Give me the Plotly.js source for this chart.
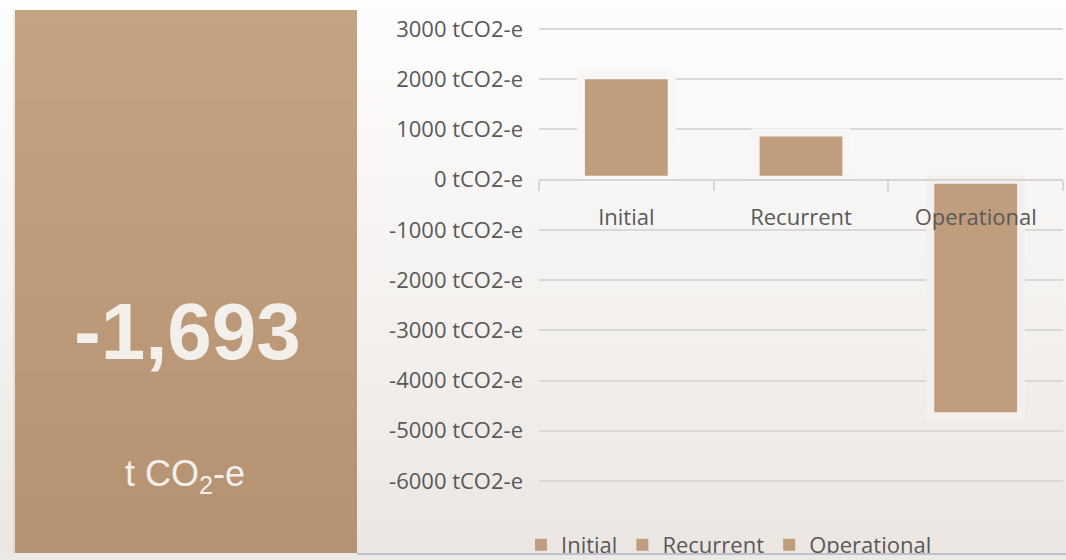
<!DOCTYPE html>
<html>
<head>
<meta charset="utf-8">
<script src="https://cdn.plot.ly/plotly-3.0.1.min.js"></script>
<style>
  html, body { margin: 0; padding: 0; background: #ede9e6; }
  #wrap { position: relative; width: 1066px; height: 553px; overflow: hidden;
          background: linear-gradient(#fdfdfd 0%, #f6f4f2 45%, #ebe6e2 100%); }
  #line { width: 1066px; height: 2px; background: linear-gradient(to right, #ede9e6 0, #ede9e6 357px, #bfc0cd 357px); }
  #chart { width: 1066px; height: 560px; }
</style>
</head>
<body>
<div id="wrap"><div id="chart"></div></div>
<div id="line"></div>
<script>
// ---- data ----
const categories = ['Initial', 'Recurrent', 'Operational'];
const values = [2080, 940, -4713];          // tCO2-e
const totalLabel = '-1,693';
const unitLabel = 't CO<sub>2</sub>-e';
const yTickVals = [3000, 2000, 1000, 0, -1000, -2000, -3000, -4000, -5000, -6000];
const tickSuffix = ' tCO2-e';

// ---- styling ----
const barColor = '#c09e7d';
const borderColors = ['#f8f7f5', '#f8f6f4', '#f3f0ed'];
const labelColor = '#595959';
const W = 1066, H = 560;
const M = { l: 539, r: 3, t: 24, b: 74, autoexpand: false };
const yRange = [-6100, 3100];
const plotW = W - M.l - M.r, plotH = H - M.t - M.b;
const px2x = p => (p - M.l) / plotW;
const px2y = p => (H - M.b - p) / plotH;

// bars (with a background-coloured border that breaks the gridlines)
const traces = categories.map((c, i) => ({
  type: 'bar',
  x: [c],
  y: [values[i]],
  name: c,
  width: 0.52,
  showlegend: false,
  marker: { color: barColor, line: { color: borderColors[i], width: 8 } },
  hoverinfo: 'x+y'
}));
// legend entries (plain squares)
categories.forEach((c, i) => traces.push({
  type: 'bar', x: [c], y: [null], name: c, showlegend: true,
  marker: { color: barColor, line: { width: 0 } }, hoverinfo: 'skip'
}));

// left panel with vertical gradient (stacked bands, no seams)
const shapes = [];
const panelTop = 10, panelBottom = 553, nb = 30;
const c0 = [196, 163, 130], c1 = [181, 146, 114];
for (let k = 0; k < nb; k++) {
  const t = (k + 0.5) / nb;
  const col = c0.map((v, j) => Math.round(v + (c1[j] - v) * t));
  shapes.push({
    type: 'rect', xref: 'paper', yref: 'paper', layer: 'below',
    x0: px2x(15), x1: px2x(357),
    y0: px2y(panelBottom),
    y1: px2y(panelTop + (panelBottom - panelTop) * k / nb),
    fillcolor: 'rgb(' + col.join(',') + ')', line: { width: 0 }
  });
}
// left edge shadow
shapes.push({ type: 'rect', xref: 'paper', yref: 'paper', layer: 'below',
  x0: px2x(13), x1: px2x(15), y0: px2y(553), y1: px2y(10),
  fillcolor: 'rgba(150,130,110,0.12)', line: { width: 0 } });

const layout = {
  width: W, height: H,
  margin: M,
  paper_bgcolor: 'rgba(0,0,0,0)',
  plot_bgcolor: 'rgba(0,0,0,0)',
  barmode: 'overlay',
  font: { family: 'Open Sans, sans-serif', size: 22, color: labelColor },
  showlegend: true,
  legend: {
    orientation: 'h', x: px2x(521), xanchor: 'left', y: px2y(545), yanchor: 'middle',
    font: { family: 'Open Sans, sans-serif', size: 22, color: labelColor },
    bgcolor: 'rgba(0,0,0,0)', itemwidth: 30, traceorder: 'normal'
  },
  xaxis: {
    type: 'category',
    anchor: 'free',
    position: (0 - yRange[0]) / (yRange[1] - yRange[0]),
    showline: true, linecolor: '#d6d6d6', linewidth: 2,
    ticks: 'outside', tickson: 'boundaries', ticklen: 10, tickcolor: '#d6d6d6', tickwidth: 2,
    ticklabelstandoff: 18,
    showgrid: false, zeroline: false,
    tickfont: { family: 'Open Sans, sans-serif', size: 22, color: labelColor },
    fixedrange: true
  },
  yaxis: {
    range: yRange,
    tickvals: yTickVals,
    ticktext: yTickVals.map(v => v + tickSuffix),
    showgrid: true, gridcolor: '#d9d9d9', gridwidth: 2,
    zeroline: false, showline: false, ticks: '',
    ticklabelstandoff: 15,
    tickfont: { family: 'Open Sans, sans-serif', size: 22, color: labelColor },
    fixedrange: true
  },
  shapes: shapes,
  annotations: [
    { text: '<b>' + totalLabel + '</b>', xref: 'paper', yref: 'paper',
      x: px2x(187), y: px2y(331), xanchor: 'center', yanchor: 'middle', showarrow: false,
      font: { family: 'Liberation Sans, Arial, sans-serif', size: 80, color: '#f3efeb' } },
    { text: unitLabel, xref: 'paper', yref: 'paper',
      x: px2x(185), y: px2y(476), xanchor: 'center', yanchor: 'middle', showarrow: false,
      font: { family: 'Liberation Sans, Arial, sans-serif', size: 36, color: '#f3efeb' } }
  ]
};

Plotly.newPlot('chart', traces, layout, { displayModeBar: false, staticPlot: true });
</script>
</body>
</html>
